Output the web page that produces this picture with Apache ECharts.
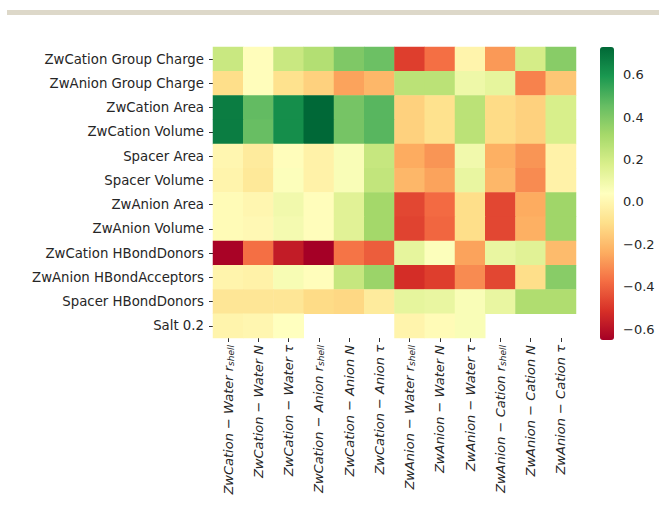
<!DOCTYPE html>
<html lang="en">
<head>
	<meta charset="UTF-8">
	<title>heatmap</title>
	<script type="text/javascript" src="https://cdn.jsdelivr.net/npm/echarts@6/dist/echarts.min.js"></script>
	<style>
		html, body { margin: 0; padding: 0; background: #fff; }
		#chart_show { width: 659px; height: 508px; }
	</style>
</head>
<body>
	<div id="chart_show"></div>
	<script>
		// rows (top to bottom)
		var rowNames = ['ZwCation Group Charge', 'ZwAnion Group Charge', 'ZwCation Area', 'ZwCation Volume',
			'Spacer Area', 'Spacer Volume', 'ZwAnion Area', 'ZwAnion Volume', 'ZwCation HBondDonors',
			'ZwAnion HBondAcceptors', 'Spacer HBondDonors', 'Salt 0.2'];
		// columns
		var colNames = ['ZwCation − Water r_shell', 'ZwCation − Water N', 'ZwCation − Water τ',
			'ZwCation − Anion r_shell', 'ZwCation − Anion N', 'ZwCation − Anion τ',
			'ZwAnion − Water r_shell', 'ZwAnion − Water N', 'ZwAnion − Water τ',
			'ZwAnion − Cation r_shell', 'ZwAnion − Cation N', 'ZwAnion − Cation τ'];
		// correlation values, one list per row, null = empty cell
		var rowCationCharge = [0.22, 0.03, 0.22, 0.28, 0.40, 0.44, -0.48, -0.37, -0.01, -0.28, 0.19, 0.38];
		var rowAnionCharge = [-0.10, 0.03, -0.09, -0.14, -0.26, -0.21, 0.26, 0.26, 0.10, 0.13, -0.33, -0.17];
		var rowCationArea = [0.67, 0.46, 0.62, 0.73, 0.42, 0.48, -0.14, -0.09, 0.26, -0.11, -0.14, 0.18];
		var rowCationVolume = [0.67, 0.45, 0.62, 0.73, 0.42, 0.48, -0.14, -0.09, 0.26, -0.11, -0.14, 0.18];
		var rowSpacerArea = [0.00, -0.05, 0.03, -0.02, 0.06, 0.23, -0.24, -0.29, 0.09, -0.23, -0.29, -0.02];
		var rowSpacerVolume = [-0.01, -0.06, 0.05, -0.02, 0.06, 0.24, -0.21, -0.26, 0.12, -0.21, -0.31, -0.02];
		var rowAnionArea = [0.02, 0.00, 0.09, 0.03, 0.15, 0.32, -0.46, -0.38, -0.10, -0.46, -0.24, 0.33];
		var rowAnionVolume = [0.02, 0.01, 0.08, 0.03, 0.15, 0.32, -0.47, -0.39, -0.10, -0.46, -0.23, 0.33];
		var rowCationDonors = [-0.64, -0.37, -0.57, -0.65, -0.36, -0.41, 0.13, 0.05, -0.26, 0.12, 0.15, -0.20];
		var rowAnionAcceptors = [-0.01, -0.02, 0.07, 0.03, 0.23, 0.34, -0.52, -0.48, -0.31, -0.46, -0.10, 0.38];
		var rowSpacerDonors = [-0.07, -0.07, -0.07, -0.11, -0.12, -0.05, 0.13, 0.12, 0.06, 0.12, 0.29, 0.29];
		var rowSalt = [-0.01, 0.00, 0.04, null, null, null, -0.01, 0.02, 0.06, null, null, null];
		var rows = [rowCationCharge, rowAnionCharge, rowCationArea, rowCationVolume, rowSpacerArea,
			rowSpacerVolume, rowAnionArea, rowAnionVolume, rowCationDonors, rowAnionAcceptors,
			rowSpacerDonors, rowSalt];
		// colour bar range and ticks
		var vMin = -0.65, vMax = 0.73;
		var barTicks = [-0.6, -0.4, -0.2, 0, 0.2, 0.4, 0.6];
		var rdYlGn = ['#a50026', '#d73027', '#f46d43', '#fdae61', '#fee08b', '#ffffbf',
			'#d9ef8b', '#a6d96a', '#66bd63', '#1a9850', '#006837'];

		var cells = [];
		rows.forEach(function (vals, r) {
			vals.forEach(function (v, c) {
				if (v !== null) cells.push([c, r, v]);
			});
		});

		var txt = '#262626';
		var oChart = echarts.init(document.getElementById('chart_show'), null, {renderer: 'svg'});
		var chartopt = {
			backgroundColor: '#fff',
			animation: false,
			graphic: [{
				type: 'rect', left: 7, top: 10,
				shape: {width: 652, height: 5},
				style: {fill: '#ddd8c9'}
			}],
			grid: [
				{left: 213, right: 83, top: 47, bottom: 170},
				{left: 600, width: 14, top: 47, bottom: 168}
			],
			xAxis: [{
				type: 'category', gridIndex: 0, data: colNames,
				axisLine: {show: false},
				axisTick: {show: true, alignWithLabel: true, length: 4, lineStyle: {color: '#333'}},
				splitArea: {show: false},
				axisLabel: {
					rotate: 90, interval: 0, margin: 7, color: txt, fontSize: 13,
					fontFamily: 'DejaVu Sans', fontStyle: 'italic',
					formatter: function (v) {
						var p = v.split('_');
						if (p.length > 1) return '{i|' + p[0] + '}{s|' + p[1] + '}';
						return '{i|' + v + '}';
					},
					rich: {
						i: {fontSize: 13, fontStyle: 'italic', fontFamily: 'DejaVu Sans', color: txt},
						s: {fontSize: 9, fontStyle: 'italic', fontFamily: 'DejaVu Sans', color: txt,
							verticalAlign: 'bottom', padding: [5, 0, 0, 0]}
					}
				}
			}, {
				type: 'value', gridIndex: 1, show: false
			}],
			yAxis: [{
				type: 'category', gridIndex: 0, data: rowNames, inverse: true,
				axisLine: {show: false},
				axisTick: {show: true, alignWithLabel: true, length: 4, lineStyle: {color: '#333'}},
				axisLabel: {color: txt, fontSize: 13.3, fontFamily: 'DejaVu Sans', margin: 9}
			}, {
				type: 'value', gridIndex: 1, position: 'right', min: vMin, max: vMax,
				splitLine: {show: false},
				axisLine: {show: false},
				axisTick: {show: true, length: 4, customValues: barTicks, lineStyle: {color: '#333'}},
				axisLabel: {
					color: txt, fontSize: 13, fontFamily: 'DejaVu Sans', margin: 9,
					customValues: barTicks,
					formatter: function (v) {
						return (v < -1e-9 ? '\u2212' : '') + Math.abs(v).toFixed(1);
					}
				}
			}],
			visualMap: {
				type: 'continuous', min: vMin, max: vMax, seriesIndex: 0,
				calculable: false, realtime: false,
				orient: 'vertical', left: 600, top: 47, padding: 0,
				itemWidth: 14, itemHeight: 293, text: ['', ''], textGap: 0,
				inRange: {color: rdYlGn}
			},
			series: [{
				type: 'heatmap', xAxisIndex: 0, yAxisIndex: 0,
				data: cells,
				itemStyle: {borderWidth: 0},
				emphasis: {disabled: true}
			}]
		};
		oChart.setOption(chartopt);
	</script>
</body>
</html>
